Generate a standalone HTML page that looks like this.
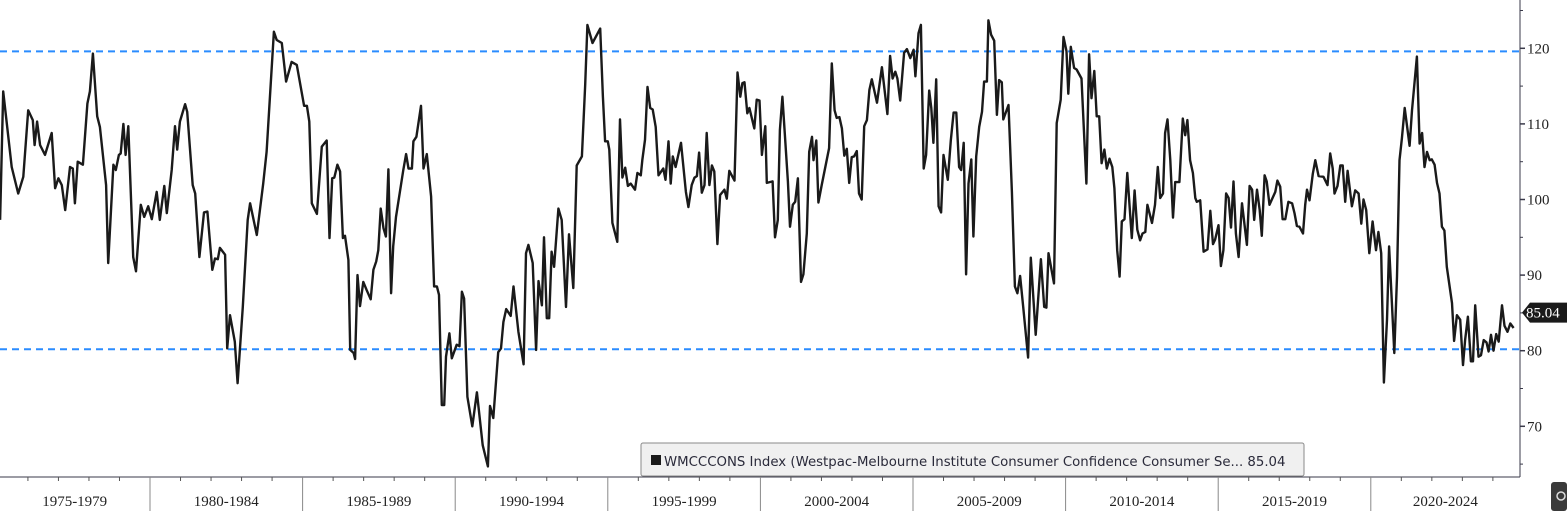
<!DOCTYPE html>
<html><head><meta charset="utf-8">
<style>
html,body{margin:0;padding:0;background:#fff;}
body{width:1567px;height:511px;overflow:hidden;position:relative;}
svg{position:absolute;left:0;top:0;}
</style></head>
<body>
<svg id="chart" width="1567" height="511" viewBox="0 0 1567 511">
  <g id="grid"></g>
  <g id="series"></g>
  <g id="yaxis"></g>
  <g id="xaxis"></g>
  <g id="legend">
    <rect x="641" y="443" width="663" height="33" rx="2" fill="#f0f0f0" stroke="#8a8a8a" stroke-width="1"></rect>
    <rect x="651" y="455" width="10" height="10" fill="#1a1a1a"></rect>
    <text x="664" y="466" font-family="'DejaVu Sans', 'Liberation Sans', sans-serif" font-size="13.3" fill="#2a2a3a">WMCCCONS Index (Westpac-Melbourne Institute Consumer Confidence Consumer Se... 85.04</text>
  </g>
  <g>
    <polygon id="tagShape" points="" fill="#1a1a1a"></polygon>
    <text id="tagText" x="1526" y="0" font-family="'Liberation Serif', serif" font-size="15" fill="#fff"></text>
  </g>
  <g>
    <rect x="1551" y="482" width="16" height="29" rx="3" fill="#3a3a3a"></rect>
    <circle cx="1561" cy="496" r="4" fill="none" stroke="#ddd" stroke-width="1.5"></circle>
  </g>
</svg>
<script>
// ---- chart data ----
const dates = [1975.09,1975.19,1975.47,1975.68,1975.85,1976.01,1976.16,1976.22,1976.30,1976.40,1976.56,1976.78,1976.89,1977.00,1977.11,1977.22,1977.38,1977.47,1977.54,1977.63,1977.80,1977.95,1978.03,1978.13,1978.27,1978.36,1978.56,1978.63,1978.80,1978.88,1978.98,1979.04,1979.13,1979.20,1979.29,1979.45,1979.54,1979.70,1979.81,1979.94,1980.06,1980.22,1980.32,1980.47,1980.55,1980.71,1980.82,1980.89,1980.98,1981.15,1981.22,1981.40,1981.48,1981.62,1981.77,1981.88,1982.04,1982.13,1982.22,1982.29,1982.46,1982.53,1982.62,1982.78,1982.87,1983.04,1983.20,1983.28,1983.50,1983.71,1983.82,1984.06,1984.15,1984.32,1984.46,1984.64,1984.81,1985.05,1985.14,1985.22,1985.30,1985.47,1985.63,1985.79,1985.88,1985.97,1986.04,1986.14,1986.23,1986.32,1986.39,1986.50,1986.56,1986.67,1986.72,1986.80,1986.88,1986.99,1987.10,1987.23,1987.32,1987.41,1987.48,1987.56,1987.65,1987.73,1987.81,1987.90,1987.97,1988.06,1988.30,1988.39,1988.47,1988.58,1988.63,1988.73,1988.88,1988.96,1989.07,1989.21,1989.31,1989.40,1989.47,1989.56,1989.64,1989.70,1989.81,1989.89,1990.05,1990.14,1990.22,1990.29,1990.40,1990.56,1990.71,1990.90,1991.07,1991.14,1991.25,1991.41,1991.50,1991.58,1991.67,1991.82,1991.91,1992.07,1992.24,1992.32,1992.40,1992.54,1992.65,1992.73,1992.84,1992.91,1993.00,1993.08,1993.16,1993.24,1993.38,1993.49,1993.63,1993.73,1993.87,1993.98,1994.15,1994.26,1994.33,1994.50,1994.75,1994.84,1994.91,1995.00,1995.05,1995.15,1995.31,1995.40,1995.48,1995.57,1995.66,1995.75,1995.89,1995.97,1996.08,1996.13,1996.22,1996.30,1996.39,1996.47,1996.57,1996.66,1996.82,1996.89,1996.99,1997.06,1997.13,1997.22,1997.40,1997.56,1997.64,1997.75,1997.84,1997.92,1997.99,1998.08,1998.17,1998.24,1998.33,1998.41,1998.49,1998.59,1998.68,1998.82,1998.90,1998.98,1999.15,1999.25,1999.34,1999.41,1999.48,1999.57,1999.64,1999.80,1999.88,1999.97,2000.05,2000.16,2000.21,2000.40,2000.48,2000.57,2000.64,2000.72,2000.90,2000.97,2001.06,2001.14,2001.23,2001.33,2001.41,2001.52,2001.60,2001.69,2001.74,2001.83,2001.90,2002.01,2002.25,2002.34,2002.43,2002.50,2002.59,2002.67,2002.75,2002.83,2002.91,2002.99,2003.07,2003.16,2003.23,2003.32,2003.40,2003.49,2003.57,2003.65,2003.82,2003.98,2004.16,2004.25,2004.33,2004.42,2004.49,2004.58,2004.71,2004.80,2004.91,2005.02,2005.08,2005.18,2005.26,2005.35,2005.43,2005.53,2005.60,2005.67,2005.76,2005.84,2005.92,2006.00,2006.14,2006.24,2006.33,2006.42,2006.51,2006.58,2006.66,2006.74,2006.82,2006.91,2006.98,2007.07,2007.17,2007.26,2007.33,2007.42,2007.47,2007.56,2007.66,2007.75,2007.82,2007.91,2007.96,2008.13,2008.24,2008.34,2008.42,2008.51,2008.61,2008.77,2008.86,2009.02,2009.19,2009.30,2009.37,2009.44,2009.62,2009.71,2009.84,2009.93,2010.03,2010.09,2010.17,2010.28,2010.36,2010.52,2010.68,2010.77,2010.85,2010.94,2011.02,2011.10,2011.18,2011.27,2011.35,2011.44,2011.53,2011.60,2011.69,2011.77,2011.84,2011.93,2012.02,2012.17,2012.26,2012.35,2012.44,2012.52,2012.61,2012.68,2012.83,2012.93,2013.02,2013.10,2013.19,2013.26,2013.34,2013.43,2013.52,2013.59,2013.73,2013.84,2013.92,2013.99,2014.08,2014.17,2014.25,2014.30,2014.41,2014.52,2014.65,2014.74,2014.83,2014.90,2015.01,2015.09,2015.17,2015.26,2015.34,2015.42,2015.50,2015.58,2015.67,2015.78,2015.94,2016.03,2016.11,2016.18,2016.27,2016.36,2016.43,2016.52,2016.59,2016.68,2016.87,2016.94,2017.03,2017.11,2017.20,2017.30,2017.42,2017.50,2017.58,2017.66,2017.78,2017.85,2017.91,2017.99,2018.10,2018.18,2018.29,2018.45,2018.58,2018.67,2018.75,2018.81,2018.91,2019.00,2019.08,2019.16,2019.24,2019.38,2019.49,2019.60,2019.69,2019.76,2019.85,2019.95,2020.06,2020.17,2020.25,2020.34,2020.43,2020.53,2020.60,2020.69,2020.77,2020.86,2020.94,2021.02,2021.11,2021.27,2021.35,2021.51,2021.60,2021.68,2021.76,2021.84,2021.93,2022.00,2022.09,2022.17,2022.25,2022.33,2022.41,2022.49,2022.66,2022.73,2022.82,2022.93,2023.02,2023.09,2023.18,2023.28,2023.35,2023.42,2023.53,2023.61,2023.70,2023.79,2023.86,2023.94,2024.02,2024.11,2024.19,2024.30,2024.38,2024.48,2024.57,2024.68];
const values = [97.3,114.3,104.3,100.8,103.0,111.8,110.5,107.2,110.3,107.2,105.9,108.8,101.5,102.8,101.9,98.6,104.3,104.1,99.5,105.0,104.6,112.7,114.3,119.3,111.0,109.6,101.9,91.6,104.6,103.9,105.9,106.1,110.0,105.9,109.7,92.4,90.5,99.3,97.7,99.1,97.4,101.0,97.3,101.8,98.2,103.9,109.7,106.6,110.3,112.6,111.6,101.9,100.8,92.4,98.3,98.4,90.7,92.2,92.1,93.6,92.7,80.3,84.7,81.2,75.7,85.8,97.3,99.5,95.3,102.1,106.3,122.2,121.1,120.7,115.6,118.2,117.8,112.4,112.4,110.3,99.5,98.1,107.0,107.8,94.9,102.8,102.9,104.6,103.7,94.9,95.2,92.0,80.1,79.7,78.9,90.0,85.9,89.1,88.0,86.8,90.7,91.8,93.3,98.8,96.2,95.1,104.0,87.6,93.8,97.7,103.9,106.0,104.1,104.1,107.7,108.3,112.4,104.1,106.0,100.4,88.5,88.5,87.4,72.8,72.8,79.2,82.3,79.0,80.8,80.6,87.8,86.9,73.9,70.0,74.5,67.5,64.7,72.7,71.1,79.8,80.3,83.8,85.5,84.6,88.5,82.5,78.2,92.9,94.0,91.6,80.1,89.2,86.0,95.0,84.3,84.3,93.1,91.1,98.8,97.3,85.8,95.4,88.3,104.5,105.7,115.2,123.1,120.7,122.6,113.6,107.7,107.7,106.6,96.9,94.4,110.6,102.9,104.2,101.8,102.1,101.3,103.5,103.2,105.2,107.9,114.9,112.1,111.9,109.6,103.2,104.1,102.6,107.7,102.1,105.7,104.3,107.5,101.0,99.0,101.9,102.9,103.1,106.2,100.9,101.9,108.8,101.9,104.5,103.7,94.1,100.6,101.3,100.1,103.8,102.5,116.8,113.6,115.4,115.5,111.4,112.1,109.4,113.2,113.1,105.9,109.7,102.2,102.4,95.0,97.3,109.2,113.6,102.4,96.4,99.3,99.7,102.8,89.1,90.1,95.5,106.3,108.3,105.2,107.8,99.6,101.9,106.8,118.0,111.8,110.8,110.9,109.4,105.8,106.7,102.2,105.6,105.7,106.4,100.8,100.0,109.7,110.5,114.5,115.9,112.8,117.5,111.3,119.0,116.0,116.9,116.0,113.1,119.4,119.9,118.7,119.8,116.3,122.0,123.1,104.1,105.9,114.4,112.1,107.5,115.9,99.1,98.3,105.9,102.6,107.8,111.5,111.5,104.3,103.9,107.5,90.1,102.1,105.3,95.1,105.7,109.6,111.6,115.6,115.6,123.7,121.8,121.0,111.2,115.8,115.5,110.6,112.5,101.0,88.5,87.6,89.9,85.8,79.1,92.3,82.1,92.1,85.8,85.7,92.9,88.9,110.1,113.2,121.5,119.6,114.0,120.2,117.4,117.2,116.0,102.1,119.2,113.4,117.0,111.0,111.0,104.8,106.6,104.1,105.4,104.3,101.5,93.3,89.8,97.1,97.4,103.5,94.9,101.2,96.0,94.6,95.5,95.7,99.3,96.9,99.3,104.3,100.2,100.8,108.8,110.6,105.2,97.6,102.3,102.3,110.7,108.5,110.5,105.2,103.5,100.2,99.7,99.9,93.1,93.4,98.5,94.1,94.7,96.6,91.2,93.3,100.8,100.2,96.3,102.4,95.5,92.4,99.5,94.0,101.8,101.3,97.3,101.3,98.6,95.2,103.2,102.4,99.3,101.0,102.5,101.7,97.4,97.4,99.7,99.5,98.2,96.5,96.4,95.5,99.3,101.3,99.9,103.4,105.2,103.1,103.0,101.9,106.1,104.1,100.8,101.8,104.5,104.5,99.7,103.8,99.1,101.2,100.8,96.8,100.0,98.6,92.9,97.1,93.3,95.7,92.9,75.8,84.1,93.8,86.3,79.7,89.8,105.2,108.1,112.1,107.1,111.8,118.9,107.4,108.8,104.3,106.3,105.2,105.3,104.6,102.2,100.8,96.4,95.9,91.1,86.3,81.3,84.7,84.1,78.1,81.4,84.5,78.6,78.6,86.0,79.2,79.4,81.4,81.1,79.9,82.1,80.0,82.2,81.2,86.0,83.3,82.5,83.6,83.0,85.04];
const yTicks = [70,80,90,100,110,120];
const yMinorTicks = [65,75,85,95,105,115,125];
const refLevels = [119.6,80.2];
const periodLabels = ["1975-1979","1980-1984","1985-1989","1990-1994","1995-1999","2000-2004","2005-2009","2010-2014","2015-2019","2020-2024"];
const periodStarts = [1975,1980,1985,1990,1995,2000,2005,2010,2015,2020];
const lastValueText = "85.04";

// ---- axes ----
const NS = "http://www.w3.org/2000/svg";
const PLOT_RIGHT = 1520, AXIS_Y = 477;
function xScale(year){ return (year - 1975) * 30.52 - 2.6; }
function yScale(v){ return 48.3 + (120 - v) * 7.56; }
function mk(tag, attrs, parent){
  const e = document.createElementNS(NS, tag);
  for (const k in attrs) e.setAttribute(k, attrs[k]);
  parent.appendChild(e);
  return e;
}
const grid = document.getElementById('grid');
const series = document.getElementById('series');
const yaxis = document.getElementById('yaxis');
const xaxis = document.getElementById('xaxis');

refLevels.forEach(function(lv){
  const l = mk('line', {x1:0, x2:PLOT_RIGHT, y1:yScale(lv), y2:yScale(lv), stroke:'#2a8cff', 'stroke-width':2, 'stroke-dasharray':'7,5'}, grid);
  
  
});

let d = '';
for (let i = 0; i < dates.length; i++){
  d += (i ? 'L' : 'M') + xScale(dates[i]).toFixed(1) + ',' + yScale(values[i]).toFixed(1);
}
const path = mk('path', {d:d, fill:'none', stroke:'#1a1a1a', 'stroke-width':2.4, 'stroke-linejoin':'round'}, series);



// y axis
const yl = mk('line', {x1:PLOT_RIGHT, x2:PLOT_RIGHT, y1:0, y2:AXIS_Y, stroke:'#3a3a4a', 'stroke-width':1}, yaxis);


yTicks.forEach(function(t){
  const y = yScale(t);
  const tk = mk('line', {x1:PLOT_RIGHT, x2:PLOT_RIGHT+5, y1:y, y2:y, stroke:'#3a3a4a', 'stroke-width':1.5}, yaxis);
  
  
  const tx = mk('text', {x:PLOT_RIGHT+7, y:y+5, 'font-family':"'Liberation Serif', serif", 'font-size':15, fill:'#222'}, yaxis);
  tx.textContent = String(t);
  
  
});
yMinorTicks.forEach(function(t){
  const y = yScale(t);
  const tk = mk('line', {x1:PLOT_RIGHT, x2:PLOT_RIGHT+3, y1:y, y2:y, stroke:'#3a3a4a', 'stroke-width':1}, yaxis);
  
  
});

// x axis
const xl = mk('line', {x1:0, x2:PLOT_RIGHT, y1:AXIS_Y, y2:AXIS_Y, stroke:'#3a3a4a', 'stroke-width':1}, xaxis);


for (let yr = 1976; yr <= 2024; yr++){
  if (yr % 5 === 0) continue;
  const x = xScale(yr);
  const tk = mk('line', {x1:x, x2:x, y1:AXIS_Y, y2:AXIS_Y+4, stroke:'#555', 'stroke-width':1}, xaxis);
  
  
}
periodStarts.forEach(function(s, i){
  const x0 = xScale(s);
  if (i > 0){
    const sep = mk('line', {x1:x0, x2:x0, y1:AXIS_Y, y2:511, stroke:'#888', 'stroke-width':1}, xaxis);
    
    
  }
  const x1 = Math.min(xScale(s + 5), PLOT_RIGHT);
  const cx = i === 0 ? (x0 + x1) / 2 + 1 : (x0 + x1) / 2;
  const tx = mk('text', {x:cx, y:506, 'text-anchor':'middle', 'font-family':"'Liberation Serif', serif", 'font-size':15, fill:'#222'}, xaxis);
  tx.textContent = periodLabels[i];
  
  
});

// last value tag
const ly = yScale(values[values.length - 1]);
document.getElementById('tagShape').setAttribute('points',
  (PLOT_RIGHT+2)+','+ly+' '+(PLOT_RIGHT+10)+','+(ly-10)+' 1567,'+(ly-10)+' 1567,'+(ly+10)+' '+(PLOT_RIGHT+10)+','+(ly+10));
const tt = document.getElementById('tagText');
tt.setAttribute('y', ly + 5);
tt.textContent = lastValueText;
</script>
</body></html>
